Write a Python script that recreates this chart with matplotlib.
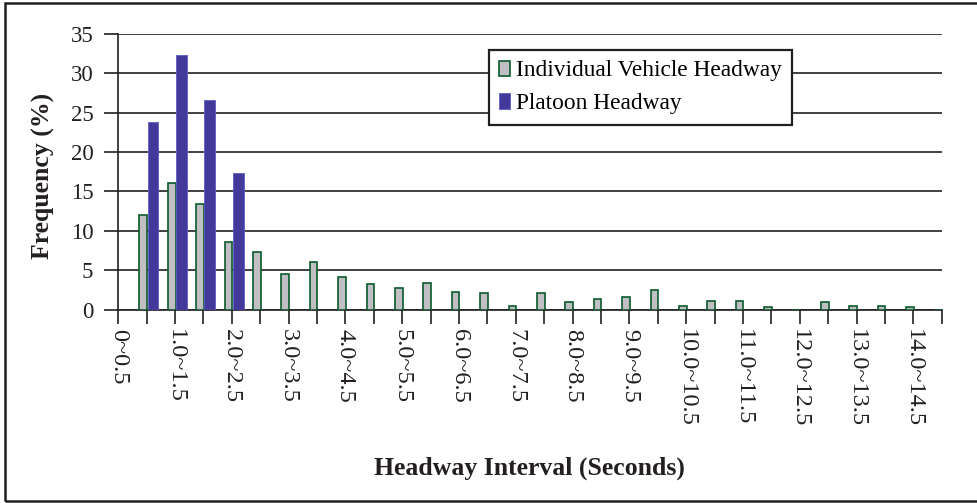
import matplotlib.pyplot as plt
from matplotlib.transforms import ScaledTranslation
from matplotlib.patches import Rectangle
import numpy as np

plt.rcParams['font.family'] = ['Liberation Serif', 'DejaVu Serif']

# headway classes, 0.5 s wide
categories = ['%s~%s' % (('0' if i == 0 else '%.1f' % (i * 0.5)), '%.1f' % ((i + 1) * 0.5)) for i in range(30)]
individual = [0, 12.0, 16.1, 13.4, 8.6, 7.3, 4.5, 6.1, 4.1, 3.2,
              2.8, 3.4, 2.3, 2.1, 0.5, 2.1, 1.0, 1.4, 1.6, 2.5,
              0.5, 1.1, 1.1, 0.3, 0, 1.0, 0.5, 0.5, 0.3, 0]
platoon = [0, 23.8, 32.3, 26.6, 17.3] + [0] * 25
yticks = [0, 5, 10, 15, 20, 25, 30, 35]

fig = plt.figure(figsize=(9.77, 5.03), dpi=100)
ax = fig.add_axes([118.3 / 977, 1 - 309.7 / 503, (941.7 - 118.3) / 977, 276 / 503])

x = np.arange(len(categories))
ax.bar(x - 0.255, individual, width=0.27, align='edge', color='#c0c0c4',
       edgecolor='#0b5a2c', linewidth=1.2, label='Individual Vehicle Headway', zorder=3)
ax.bar(x + 0.035, platoon, width=0.375, align='edge', color='#43399b',
       edgecolor='#5a5cc4', linewidth=0.6, label='Platoon Headway', zorder=3)

ax.set_xlim(0, 29)
ax.set_ylim(0, 35)
ax.set_yticks(yticks)
ax.set_xticks(x)
ax.set_xticklabels([c if i % 2 == 0 else '' for i, c in enumerate(categories)],
                   rotation=-90, va='top', ha='center', fontsize=17.5)
offset = ScaledTranslation(-7 / 100, 0, fig.dpi_scale_trans)
for lab in ax.get_xticklabels():
    lab.set_transform(lab.get_transform() + offset)
ax.tick_params(axis='x', length=10, width=1.2, color='#231f20', pad=4, labelcolor='#231f20')
ax.tick_params(axis='y', length=10, width=1.2, color='#231f20', pad=8, labelsize=16.5, labelcolor='#231f20')
ax.xaxis.get_major_ticks()[-1].tick1line.set_color('#4a4fc0')
ax.set_xlim(0, 29)

ax.yaxis.grid(True, color='#231f20', linewidth=1.2, zorder=0)
ax.set_axisbelow(True)
for side in ['top', 'right']:
    ax.spines[side].set_visible(False)
for side in ['left', 'bottom']:
    ax.spines[side].set_color('#231f20')
    ax.spines[side].set_linewidth(1.2)

fig.text(529 / 977, 1 - 468 / 503, 'Headway Interval (Seconds)', ha='center', va='center',
         fontsize=18.5, fontweight='bold', color='#231f20')
fig.text(43 / 977, 1 - 176 / 503, 'Frequency (%)', ha='center', va='center', rotation=90,
         fontsize=18.5, fontweight='bold', color='#231f20')

leg = ax.legend(loc='upper left', bbox_to_anchor=(489 / 977, 1 - 50 / 503),
                bbox_transform=fig.transFigure, borderaxespad=0, fontsize=16.8,
                handlelength=0.45, handleheight=0.65, handletextpad=0.25, labelspacing=0.5,
                borderpad=0.45, fancybox=False, framealpha=1, edgecolor='#231f20')
leg.get_frame().set_linewidth(1.6)
leg.set_zorder(5)

# outer frame of the figure
fig.patches.append(Rectangle((5 / 977, 2 / 503), 1.2, 1 - 5 / 503, transform=fig.transFigure,
                             fill=False, edgecolor='#231f20', linewidth=1.8))

fig.savefig('out.png', dpi=100)
